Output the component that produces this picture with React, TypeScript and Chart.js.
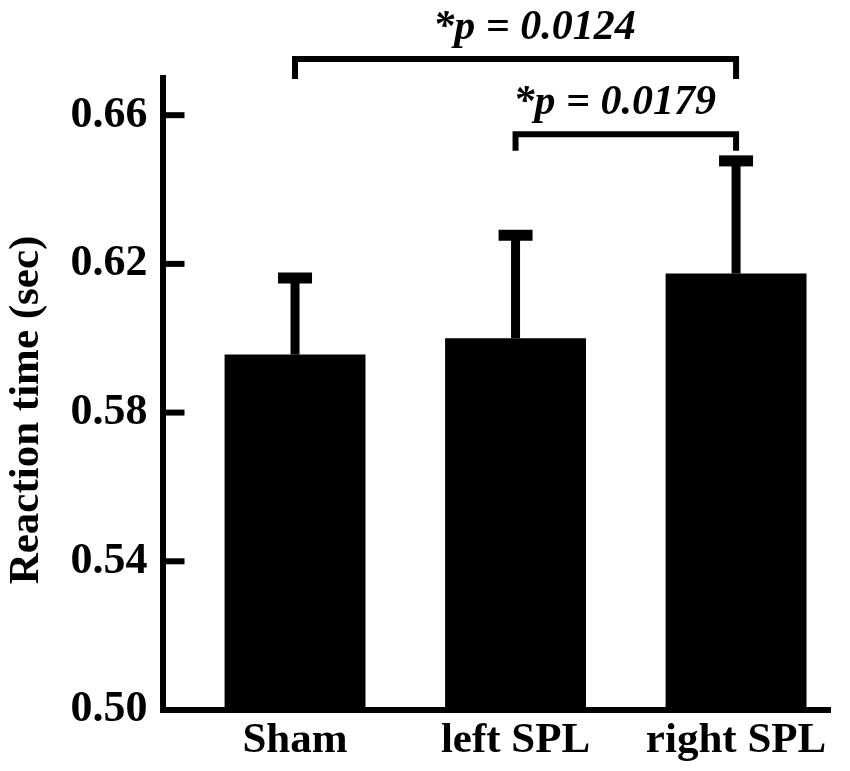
import { useEffect, useRef } from "react";
import { Chart, registerables } from "chart.js";

Chart.register(...registerables);

// ---- data ----
const categories = ["Sham", "left SPL", "right SPL"];
const means = [0.5956, 0.6, 0.6174];
const errors = [0.0206, 0.0277, 0.0303];
const yTicks = [0.5, 0.54, 0.58, 0.62, 0.66];
const comparisonFrom = [0, 1];
const comparisonTo = [2, 2];
const comparisonP = ["0.0124", "0.0179"];

// ---- annotation placement (styles, not data) ----
const bracketLevel = [0.6751, 0.6549];
const bracketFoot = [0.6697, 0.6504];
const bracketTextDx = [19, -11];

const SERIF = '"Liberation Serif", "Times New Roman", serif';

export default function App() {
  const ref = useRef<HTMLCanvasElement | null>(null);

  useEffect(() => {
    document.body.style.margin = "0";
    const canvas = ref.current;
    if (!canvas) return;

    const overlay = {
      id: "overlay",
      afterDatasetsDraw(chart: any) {
        const { ctx, scales } = chart;
        const y = scales.y;
        const meta = chart.getDatasetMeta(0);
        ctx.save();
        ctx.fillStyle = "#000";
        meta.data.forEach((bar: any, i: number) => {
          const top = y.getPixelForValue(means[i] + errors[i]);
          ctx.fillRect(bar.x - 4.5, top, 9, bar.y - top);
          ctx.fillRect(bar.x - 17, top - 5.5, 34, 11);
        });
        ctx.restore();
      },
      afterDraw(chart: any) {
        const { ctx, scales, chartArea } = chart;
        const x = scales.x;
        const y = scales.y;
        ctx.save();
        ctx.fillStyle = "#000";
        ctx.strokeStyle = "#000";
        // inward tick marks
        ctx.lineWidth = 6;
        yTicks.forEach((v) => {
          if (v === y.min) return;
          const py = y.getPixelForValue(v);
          ctx.beginPath();
          ctx.moveTo(chartArea.left, py);
          ctx.lineTo(chartArea.left + 22, py);
          ctx.stroke();
        });
        // significance brackets
        ctx.lineJoin = "miter";
        ctx.lineCap = "butt";
        comparisonFrom.forEach((from, k) => {
          const x1 = x.getPixelForValue(from);
          const x2 = x.getPixelForValue(comparisonTo[k]);
          const yl = y.getPixelForValue(bracketLevel[k]);
          const yf = y.getPixelForValue(bracketFoot[k]);
          ctx.lineWidth = 6;
          ctx.beginPath();
          ctx.moveTo(x1, yf);
          ctx.lineTo(x1, yl);
          ctx.lineTo(x2, yl);
          ctx.lineTo(x2, yf);
          ctx.stroke();
          ctx.font = `italic bold 42px ${SERIF}`;
          ctx.textAlign = "center";
          ctx.textBaseline = "alphabetic";
          ctx.fillText("*p = " + comparisonP[k], (x1 + x2) / 2 + bracketTextDx[k], yl - 20);
        });
        // y axis title
        ctx.translate(37.5, 410);
        ctx.rotate(-Math.PI / 2);
        ctx.font = `bold 43px ${SERIF}`;
        ctx.textAlign = "center";
        ctx.textBaseline = "alphabetic";
        ctx.fillText("Reaction time (sec)", 0, 0);
        ctx.restore();
      },
    };

    const chart = new Chart(canvas, {
      type: "bar",
      data: {
        datasets: [
          {
            data: means.map((m, i) => ({ x: i, y: m })),
            backgroundColor: "#000",
            borderWidth: 0,
            barPercentage: 0.639,
            categoryPercentage: 1,
          },
        ],
      },
      options: {
        animation: false,
        responsive: true,
        maintainAspectRatio: false,
        layout: { padding: { top: 78, right: 20, left: 0, bottom: 0 } },
        plugins: {
          legend: { display: false },
          tooltip: { enabled: false },
          title: { display: false },
        },
        scales: {
          x: {
            type: "linear",
            min: -0.601,
            max: 2.426,
            offset: false,
            grid: { display: false, drawTicks: false, offset: false },
            border: { display: true, width: 6, color: "#000" },
            afterBuildTicks: (scale: any) => {
              scale.ticks = categories.map((_, i) => ({ value: i }));
            },
            afterFit: (scale: any) => {
              scale.height = 61;
            },
            ticks: {
              autoSkip: false,
              maxRotation: 0,
              minRotation: 0,
              padding: 5,
              color: "#000",
              font: { family: SERIF, size: 43, weight: "bold" },
              callback: (_v: any, i: number) => categories[i],
            },
          },
          y: {
            min: 0.5,
            max: 0.67,
            grid: { display: false, drawTicks: false },
            border: { display: true, width: 6, color: "#000" },
            afterBuildTicks: (scale: any) => {
              scale.ticks = yTicks.map((v) => ({ value: v }));
            },
            afterFit: (scale: any) => {
              scale.width = 162.5;
            },
            ticks: {
              padding: 15,
              color: "#000",
              font: { family: SERIF, size: 44, weight: "bold" },
              callback: (v: any) => Number(v).toFixed(2),
            },
          },
        },
      },
      plugins: [overlay],
    } as any);

    return () => chart.destroy();
  }, []);

  return (
    <div style={{ width: 850, height: 771, position: "relative", background: "#fff" }}>
      <canvas ref={ref} />
    </div>
  );
}
